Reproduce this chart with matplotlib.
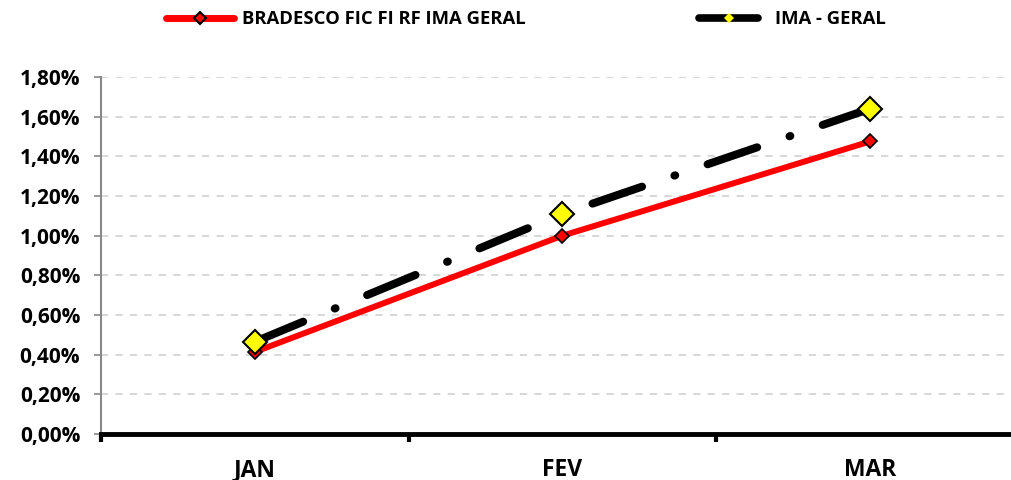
import numpy as np
import matplotlib.pyplot as plt
from matplotlib.lines import Line2D
from matplotlib.ticker import FuncFormatter

# data
months = ['JAN', 'FEV', 'MAR']
bradesco = [0.414, 1.00, 1.475]
ima_geral = [0.465, 1.11, 1.64]
yticks = [0.0, 0.2, 0.4, 0.6, 0.8, 1.0, 1.2, 1.4, 1.6, 1.8]

plt.rcParams['font.family'] = ['Open Sans', 'DejaVu Sans']
plt.rcParams['font.weight'] = 'bold'

fig = plt.figure(figsize=(10.12, 4.8), dpi=100)
# the category axis runs a bit past the right edge of the picture
ax = fig.add_axes([0.0998, 0.0958, 0.912, 0.7438])

x = np.arange(len(months))

#red solid line for the fund
ax.plot(x, bradesco, color='#ff0000', lw=4.3, solid_capstyle='round',
        marker='D', ms=7, mfc='#ff0000', mec='black', mew=1.2, zorder=3)

#black dash-dot line for the benchmark
ax.plot(x, ima_geral, color='black', lw=5.8, dashes=(6.5, 4.25, 0.1, 4.25),
        dash_capstyle='round', marker='D', ms=12, mfc='#ffff00',
        mec='black', mew=1.5, zorder=4)

ax.set_xlim(-0.5, 2.5)
ax.set_ylim(0, 1.8)
ax.set_yticks(yticks)
ax.yaxis.set_major_formatter(FuncFormatter(lambda v, p: ('%.2f%%' % v).replace('.', ',')))
ax.set_xticks(x)
ax.set_xticklabels(months)
ax.set_xticks([-0.5, 0.5, 1.5, 2.5], minor=True)

ax.grid(axis='y', color='#d4d4d4', ls=(0, (4, 4)), lw=1.3)
ax.set_axisbelow(True)

for s in ['top', 'right']:
    ax.spines[s].set_visible(False)
ax.spines['left'].set_color('#888888')
ax.spines['left'].set_linewidth(1.5)
ax.spines['bottom'].set_color('black')
ax.spines['bottom'].set_linewidth(3.5)

ax.tick_params(axis='y', length=5, color='#888888', width=1.2, labelsize=15, pad=10)
ax.tick_params(axis='x', which='major', length=0, labelsize=16.5, pad=17)
ax.tick_params(axis='x', which='minor', length=6, width=3, color='black')
for lab in ax.get_xticklabels() + ax.get_yticklabels():
    lab.set_fontweight('bold')

#legend keys are drawn solid and thick, like in the original
h1 = Line2D([], [], color='#ff0000', lw=5, solid_capstyle='round', marker='D',
            ms=6, mfc='#ff0000', mec='black', mew=1.5)
h2 = Line2D([], [], color='black', lw=5.5, solid_capstyle='round', marker='D',
            ms=5, mfc='#ffff00', mec='#ffff00', mew=0)

#two separate legends, the handles have different lengths in the original
leg1 = fig.legend(handles=[h1], labels=['BRADESCO FIC FI RF IMA GERAL'],
                  loc='center left', bbox_to_anchor=(0.164, 0.96),
                  frameon=False, fontsize=13.3, handlelength=3.7,
                  handletextpad=0.4, borderpad=0, borderaxespad=0)
leg2 = fig.legend(handles=[h2], labels=['IMA - GERAL'],
                  loc='center left', bbox_to_anchor=(0.691, 0.96),
                  frameon=False, fontsize=13.3, handlelength=3.2,
                  handletextpad=0.9, borderpad=0, borderaxespad=0)
for leg in [leg1, leg2]:
    for t in leg.get_texts():
        t.set_fontweight('bold')

fig.savefig('out.png', dpi=100)
